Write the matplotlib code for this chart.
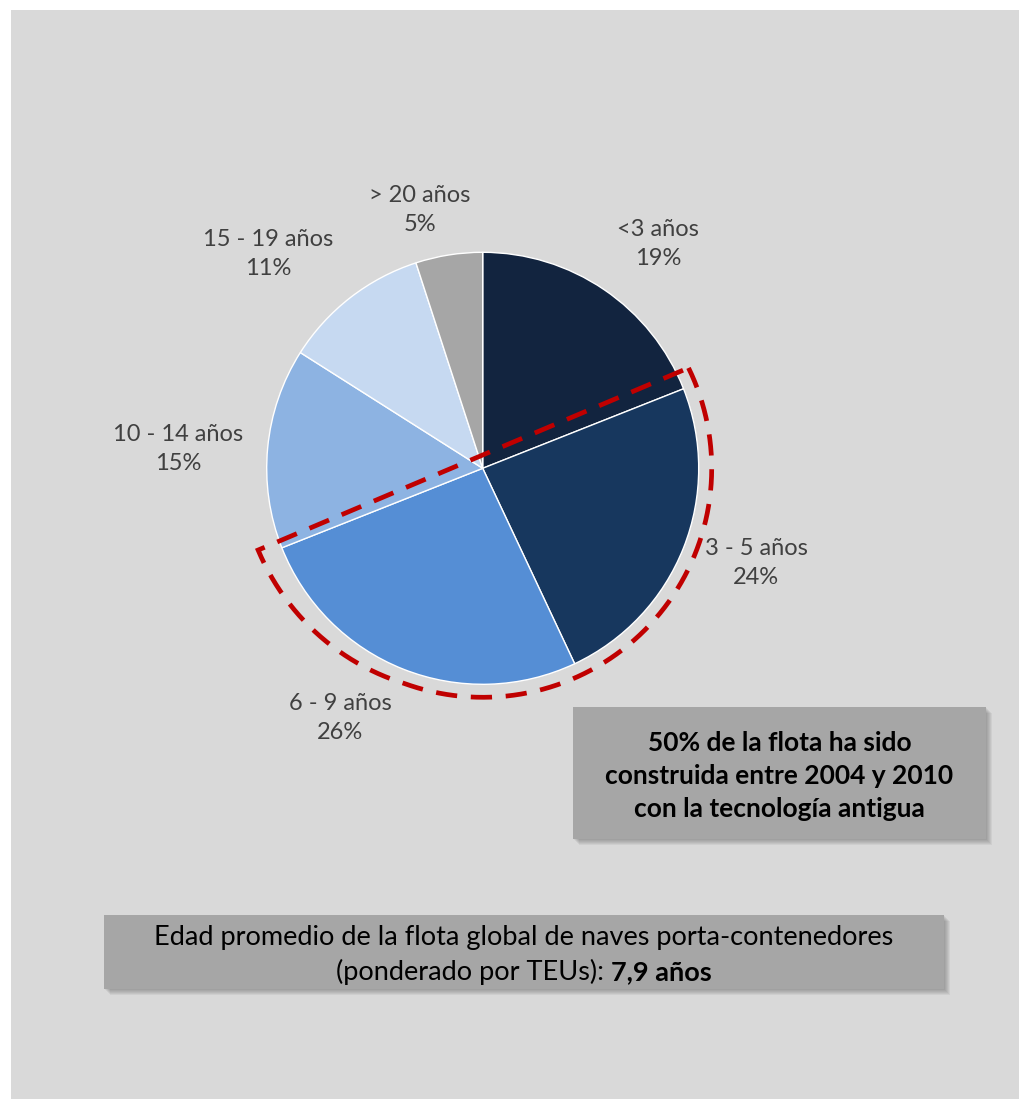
import numpy as np
import matplotlib.pyplot as plt
from matplotlib.patches import Rectangle

plt.rcParams['font.family'] = ['Lato', 'DejaVu Sans']

# data
categories = ['<3 años', '3 - 5 años', '6 - 9 años', '10 - 14 años', '15 - 19 años', '> 20 años']
shares = [19, 24, 26, 15, 11, 5]
colors = ['#12243f', '#17375e', '#558ed5', '#8db3e2', '#c6d9f1', '#a6a6a6']

note_lines = ['50% de la flota ha sido', 'construida entre 2004 y 2010', 'con la tecnología antigua']
avg_line1 = 'Edad promedio de la flota global de naves porta-contenedores'
avg_line2 = '(ponderado por TEUs): '
avg_value = '7,9 años'

# layout in image pixels (y measured from top)
W, H = 1020, 1099
cx, cy, r = 482.7, 468.3, 216
label_pos = [(658, 244), (756, 563), (340, 718), (178, 449), (268, 254), (420, 210)]


def fy(y):
    return H - y


def shadow_box(ax, x0, y0, x1, y1, color='#a6a6a6'):
    for k in range(1, 7):
        ax.add_patch(Rectangle((x0 + k, fy(y1) - k), x1 - x0, y1 - y0,
                               facecolor='#404040', edgecolor='none', alpha=0.07, zorder=3))
    ax.add_patch(Rectangle((x0, fy(y1)), x1 - x0, y1 - y0,
                           facecolor=color, edgecolor='none', zorder=4))


fig = plt.figure(figsize=(W / 100, H / 100), dpi=100)
fig.patch.set_facecolor('white')
ax = fig.add_axes([0, 0, 1, 1])

ax.add_patch(Rectangle((11, 0), W - 11, H - 10, facecolor='#d9d9d9', edgecolor='none', zorder=0))

ax.pie(shares, colors=colors, startangle=90, counterclock=False,
       center=(cx, fy(cy)), radius=r,
       wedgeprops=dict(edgecolor='white', linewidth=1.0, zorder=1))

for (lx, ly), cat, val in zip(label_pos, categories, shares):
    ax.text(lx, fy(ly), f'{cat}\n{val}%', ha='center', va='center', fontsize=17,
            color='#404040', linespacing=1.48, zorder=5)

# red dashed half-disc
deg = np.linspace(26, -160, 300)
rr = 229 + 10 * np.clip((-110 - deg) / 50, 0, 1)
th = np.radians(deg)
xs = cx + rr * np.cos(th)
ys = fy(cy) + rr * np.sin(th)
xs = np.append(xs, xs[0])
ys = np.append(ys, ys[0])
ax.plot(xs, ys, color='#c00000', lw=3.4, linestyle=(0, (4.5, 2.9)),
        solid_joinstyle='miter', dash_joinstyle='miter', zorder=2)

# note box
shadow_box(ax, 573, 707, 986, 839)
for i, line in enumerate(note_lines):
    ax.text(779.5, fy(743 + 33 * i), line, ha='center', va='center', fontsize=19,
            fontweight='bold', color='black', zorder=6)

# average age box
shadow_box(ax, 104, 915, 944, 989)
ax.text(524, fy(938), avg_line1, ha='center', va='center', fontsize=19.5, color='black', zorder=6)

fig.canvas.draw()
renderer = fig.canvas.get_renderer()
t1 = ax.text(0, fy(972), avg_line2, ha='left', va='center', fontsize=19.5, color='black', zorder=6)
t2 = ax.text(0, fy(972), avg_value, ha='left', va='center', fontsize=19.5, fontweight='bold',
             color='black', zorder=6)
w1 = t1.get_window_extent(renderer).width
w2 = t2.get_window_extent(renderer).width
x_start = 524 - (w1 + w2) / 2
t1.set_x(x_start)
t2.set_x(x_start + w1)

ax.set_xlim(0, W)
ax.set_ylim(0, H)
ax.set_aspect('auto')
ax.axis('off')

fig.savefig('out.png', dpi=100, facecolor=fig.get_facecolor())
